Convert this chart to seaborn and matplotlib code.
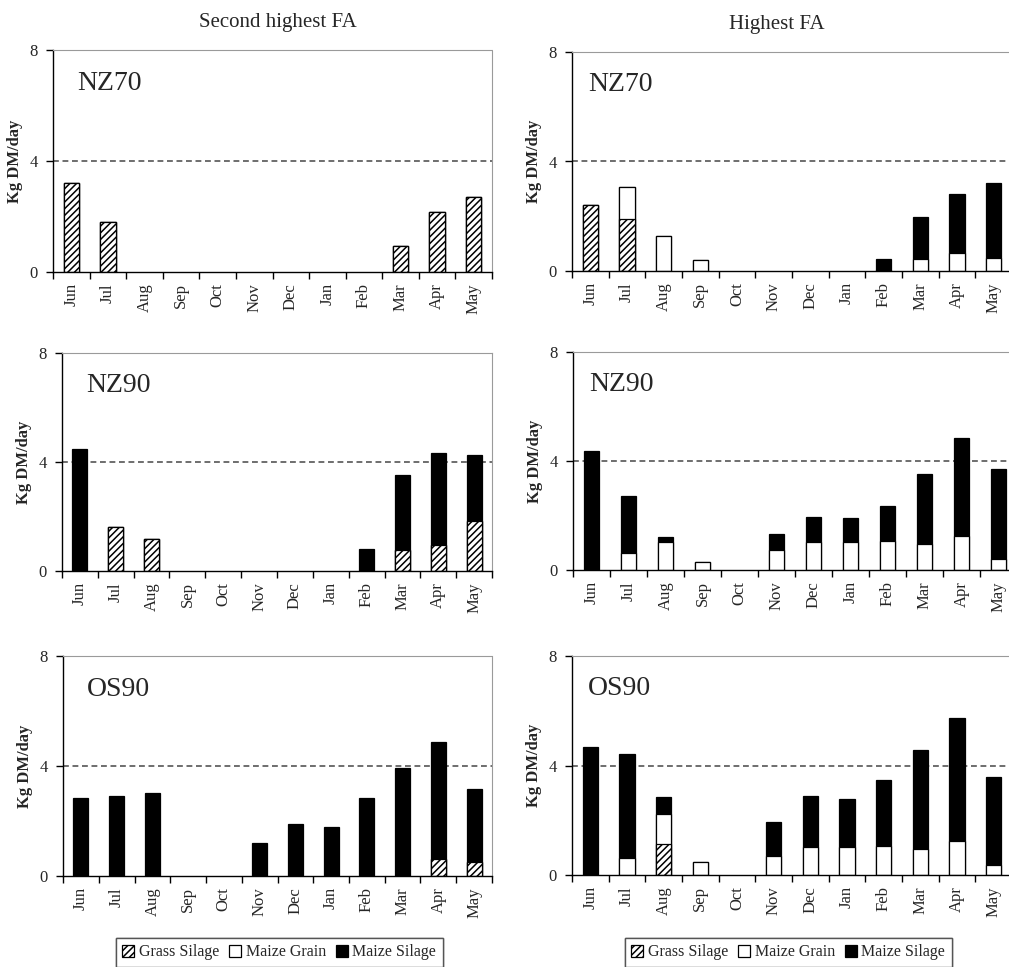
import numpy as np
import pandas as pd
import matplotlib
matplotlib.use("Agg")
import matplotlib.pyplot as plt
from matplotlib.patches import Patch
import seaborn as sns

# ---- data (kg DM/cow/day of supplement by month) ----
months = ["Jun", "Jul", "Aug", "Sep", "Oct", "Nov", "Dec", "Jan", "Feb", "Mar", "Apr", "May"]

# Second highest FA
nz70_2_grass = [3.2, 1.8, 0, 0, 0, 0, 0, 0, 0, 0.95, 2.15, 2.7]
nz70_2_grain = [0, 0, 0, 0, 0, 0, 0, 0, 0, 0, 0, 0]
nz70_2_silage = [0, 0, 0, 0, 0, 0, 0, 0, 0, 0, 0, 0]

nz90_2_grass = [0, 1.61, 1.19, 0, 0, 0, 0, 0, 0, 0.78, 0.94, 1.82]
nz90_2_grain = [0, 0, 0, 0, 0, 0, 0, 0, 0, 0, 0, 0]
nz90_2_silage = [4.49, 0, 0, 0, 0, 0, 0, 0, 0.82, 2.73, 3.39, 2.43]

os90_2_grass = [0, 0, 0, 0, 0, 0, 0, 0, 0, 0, 0.61, 0.51]
os90_2_grain = [0, 0, 0, 0, 0, 0, 0, 0, 0, 0, 0, 0]
os90_2_silage = [2.84, 2.90, 3.03, 0, 0, 1.21, 1.88, 1.78, 2.83, 3.94, 4.26, 2.64]

# Highest FA
nz70_1_grass = [2.4, 1.9, 0, 0, 0, 0, 0, 0, 0, 0, 0, 0]
nz70_1_grain = [0, 1.17, 1.28, 0.4, 0, 0, 0, 0, 0.05, 0.43, 0.67, 0.49]
nz70_1_silage = [0, 0, 0, 0, 0, 0, 0, 0, 0.39, 1.55, 2.14, 2.71]

nz90_1_grass = [0, 0, 0, 0, 0, 0, 0, 0, 0, 0, 0, 0]
nz90_1_grain = [0, 0.61, 1.04, 0.28, 0, 0.73, 1.01, 1.01, 1.06, 0.95, 1.25, 0.39]
nz90_1_silage = [4.37, 2.10, 0.18, 0, 0, 0.59, 0.94, 0.88, 1.30, 2.57, 3.60, 3.32]

os90_1_grass = [0, 0, 1.12, 0, 0, 0, 0, 0, 0, 0, 0, 0]
os90_1_grain = [0, 0.61, 1.11, 0.49, 0, 0.70, 1.01, 1.01, 1.06, 0.94, 1.24, 0.36]
os90_1_silage = [4.68, 3.81, 0.63, 0, 0, 1.22, 1.88, 1.76, 2.41, 3.62, 4.48, 3.21]

column_titles = ["Second highest FA", "Highest FA"]
legend_labels = ["Grass Silage", "Maize Grain", "Maize Silage"]

panels = [
    # (label, grass, grain, silage, column, row)
    ("NZ70", nz70_2_grass, nz70_2_grain, nz70_2_silage, 0, 0),
    ("NZ70", nz70_1_grass, nz70_1_grain, nz70_1_silage, 1, 0),
    ("NZ90", nz90_2_grass, nz90_2_grain, nz90_2_silage, 0, 1),
    ("NZ90", nz90_1_grass, nz90_1_grain, nz90_1_silage, 1, 1),
    ("OS90", os90_2_grass, os90_2_grain, os90_2_silage, 0, 2),
    ("OS90", os90_1_grass, os90_1_grain, os90_1_silage, 1, 2),
]

# ---- styling ----
sns.set_theme(style="white")
plt.rcParams["font.family"] = ["Liberation Serif", "DejaVu Serif"]
plt.rcParams["hatch.linewidth"] = 1.1
plt.rcParams["hatch.color"] = "#222222"

W, H = 1009, 967
fig = plt.figure(figsize=(W / 100, H / 100), dpi=100)

# axes boxes in pixels: (left, top, right, bottom)
boxes = {
    (0, 0): (53, 50, 492, 272), (1, 0): (572, 52, 1012, 271),
    (0, 1): (62, 353, 492, 571), (1, 1): (573, 352, 1017, 570),
    (0, 2): (63, 656, 492, 876), (1, 2): (572, 656, 1012, 875),
}
label_offset = {0: 24, 1: 16}
HATCH = "/////"
BAR_W = 0.42

for name, grass, grain, silage, col, row in panels:
    l, t, r, b = boxes[(col, row)]
    ax = fig.add_axes([l / W, 1 - b / H, (r - l) / W, (b - t) / H])
    df = pd.DataFrame({"month": months, "grass": grass, "grain": grain, "silage": silage})
    df["lower"] = df["grass"]
    df["middle"] = df["grass"] + df["grain"]
    df["total"] = df["middle"] + df["silage"]

    ax.axhline(4, color="#555555", lw=1.2, dashes=(3.5, 2.2), zorder=0.5)

    common = dict(x="month", order=months, width=BAR_W, errorbar=None,
                  saturation=1, edgecolor="black", linewidth=0.9, ax=ax)
    sns.barplot(data=df, y="total", color="black", **common)
    sns.barplot(data=df, y="middle", color="white", **common)
    sns.barplot(data=df, y="lower", color="white", hatch=HATCH, **common)
    for p in ax.patches:
        if p.get_height() <= 0:
            p.set_linewidth(0)
            p.set_hatch(None)

    ax.set_xlim(-0.5, 11.5)
    ax.set_ylim(0, 8)
    ax.set_yticks([0, 4, 8])
    ax.set_yticklabels(["0", "4", "8"], fontsize=12)
    ax.set_xticks(np.arange(-0.5, 12, 1))
    ax.set_xticklabels([])
    ax.set_xticks(np.arange(12), minor=True)
    ax.set_xticklabels(months, minor=True, rotation=90, fontsize=12)
    ax.tick_params(axis="x", which="major", direction="out", length=5, width=1,
                   color="black", bottom=True)
    ax.tick_params(axis="x", which="minor", length=0, pad=8, bottom=True)
    ax.tick_params(axis="y", direction="out", length=5, width=1, color="black",
                   left=True, pad=6)
    ax.set_xlabel("")
    ax.set_ylabel("Kg DM/day", fontsize=12, fontweight="bold")
    ax.yaxis.set_label_coords(-30 / (r - l), 0.5)

    for side in ("left", "bottom"):
        ax.spines[side].set_color("black")
        ax.spines[side].set_linewidth(1.0)
    for side in ("top", "right"):
        ax.spines[side].set_color("#9a9a9a")
        ax.spines[side].set_linewidth(0.8)
        ax.spines[side].set_linestyle((0, (1, 1)))

    ax.text(label_offset[col] / (r - l), 0.85, name, transform=ax.transAxes,
            fontsize=20, va="center", ha="left")

fig.text(278 / W, 1 - 23 / H, column_titles[0], fontsize=15, ha="center", va="center")
fig.text(777 / W, 1 - 24 / H, column_titles[1], fontsize=15, ha="center", va="center")

handles = [
    Patch(facecolor="white", edgecolor="black", hatch=HATCH, linewidth=0.9),
    Patch(facecolor="white", edgecolor="black", linewidth=0.9),
    Patch(facecolor="black", edgecolor="black", linewidth=0.9),
]
for x0 in (116, 625):
    leg = fig.legend(handles, legend_labels, ncol=3, loc="upper left",
                     bbox_to_anchor=(x0 / W, 1 - 938 / H), frameon=True,
                     fancybox=False, edgecolor="#555555", framealpha=1,
                     handlelength=0.75, handleheight=0.75, handletextpad=0.3,
                     columnspacing=0.6, borderpad=0.4, borderaxespad=0,
                     prop={"size": 11.5})
    leg.get_frame().set_linewidth(1.0)
    fig.add_artist(leg)

fig.savefig("out.png", dpi=100)
